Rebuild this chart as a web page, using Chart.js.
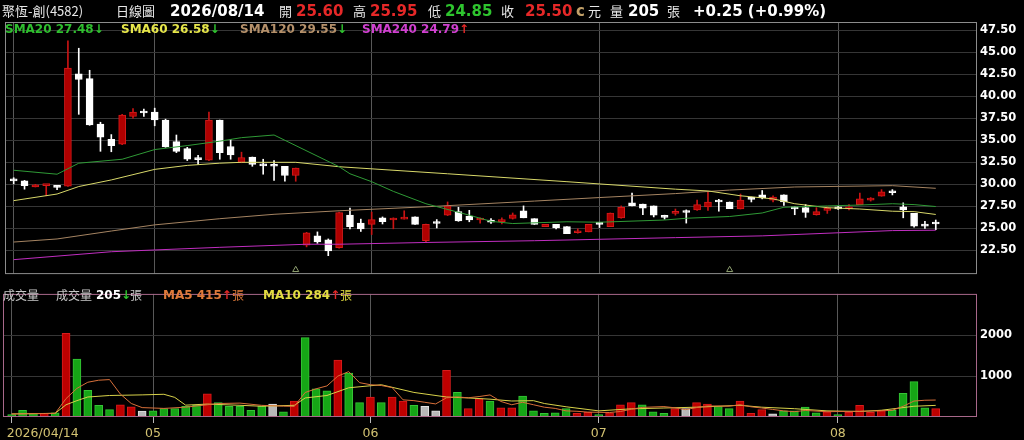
<!DOCTYPE html>
<html>
<head>
<meta charset="utf-8">
<script src="https://cdn.jsdelivr.net/npm/chart.js@4.4.1/dist/chart.umd.min.js"></script>
<style>
  body { margin: 0; background: #000; width: 1024px; height: 440px; overflow: hidden; position: relative; }
  canvas { position: absolute; left: 0; }
  #price { top: 0; }
  #vol { top: 284px; }
  .t { position: absolute; white-space: nowrap; line-height: 1; }
  .cjk { font-family: "Noto Sans CJK TC", sans-serif; font-size: 13px; color: #e6e6e6; }
  .num { font-family: "DejaVu Sans", sans-serif; font-weight: bold; font-size: 15px; color: #fff; }
  .lg { font-family: "DejaVu Sans", sans-serif; font-weight: bold; font-size: 12px; }
  .red { color: #e62828; }
  .grn { color: #2ec42e; }
</style>
</head>
<body>
<canvas id="price" width="1024" height="284" style="width:1024px;height:284px"></canvas>
<canvas id="vol" width="1024" height="156" style="width:1024px;height:156px"></canvas>

<!-- header -->
<span class="t cjk" style="left:2px;top:4px">聚恆-創(4582)</span>
<span class="t cjk" style="left:116px;top:4px">日線圖</span>
<span class="t num" style="left:170px;top:4px">2026/08/14</span>
<span class="t cjk" style="left:279px;top:4px">開</span>
<span class="t num red" style="left:296px;top:4px">25.60</span>
<span class="t cjk" style="left:353px;top:4px">高</span>
<span class="t num red" style="left:370px;top:4px">25.95</span>
<span class="t cjk" style="left:428px;top:4px">低</span>
<span class="t num grn" style="left:445px;top:4px">24.85</span>
<span class="t cjk" style="left:501px;top:4px">收</span>
<span class="t num red" style="left:525px;top:4px">25.50</span>
<span class="t num" style="left:576px;top:4px;color:#c2a068">c</span>
<span class="t cjk" style="left:588px;top:4px">元</span>
<span class="t cjk" style="left:610px;top:4px">量</span>
<span class="t num" style="left:628px;top:4px">205</span>
<span class="t cjk" style="left:667px;top:4px">張</span>
<span class="t num" style="left:693px;top:4px">+0.25 (+0.99%)</span>

<!-- price legend -->
<span class="t lg" style="left:5px;top:23px;color:#2fbf2f">SMA20 27.48<span class="grn">↓</span></span>
<span class="t lg" style="left:121px;top:23px;color:#e6e64a">SMA60 26.58<span class="grn">↓</span></span>
<span class="t lg" style="left:240px;top:23px;color:#b4906a">SMA120 29.55<span class="grn">↓</span></span>
<span class="t lg" style="left:362px;top:23px;color:#d040d0">SMA240 24.79<span class="red">↑</span></span>

<!-- volume legend -->
<span class="t cjk" style="left:3px;top:289px;font-size:12px;color:#c8c8c8">成交量</span>
<span class="t cjk" style="left:56px;top:289px;font-size:12px;color:#c8c8c8">成交量</span>
<span class="t lg" style="left:96px;top:289px;color:#fff">205<span class="grn">↓</span></span>
<span class="t cjk" style="left:130px;top:289px;font-size:12px;color:#c8c8c8">張</span>
<span class="t lg" style="left:163px;top:289px;color:#e07a3a">MA5 415<span class="red">↑</span></span>
<span class="t cjk" style="left:232px;top:289px;font-size:12px;color:#e07a3a">張</span>
<span class="t lg" style="left:263px;top:289px;color:#e2dc40">MA10 284<span class="red">↑</span></span>
<span class="t cjk" style="left:340px;top:289px;font-size:12px;color:#e2dc40">張</span>

<script>
// trading days, 2026
const aprDays = [14, 15, 16, 17, 20, 21, 22, 23, 24, 27, 28, 29, 30]
const mayDays = [4, 5, 6, 7, 8, 11, 12, 13, 14, 15, 18, 19, 20, 21, 22, 25, 26, 27, 28, 29]
const junDays = [1, 2, 3, 4, 5, 8, 9, 10, 11, 12, 15, 16, 17, 18, 22, 23, 24, 25, 26, 29, 30]
const julDays = [1, 2, 3, 6, 7, 8, 9, 10, 13, 14, 15, 16, 17, 20, 21, 22, 23, 24, 27, 28, 29, 30]
const augDays = [3, 4, 5, 6, 7, 10, 11, 12, 13, 14]

const opens = [30.45, 30.4, 29.7, 29.85, 29.9, 29.8, 42.55, 42.0, 36.85, 35.1,
  34.55, 37.7, 38.15, 38.2, 37.3, 34.85, 34.05, 32.85, 32.75, 37.3,
  34.3, 32.5, 33.1, 32.15, 32.1, 32.05, 31.0, 23.1, 24.15, 23.7,
  22.8, 26.5, 25.6, 25.45, 26.2, 25.95, 26.05, 26.3, 23.6, 25.6,
  26.5, 26.9, 26.4, 25.95, 25.95, 25.75, 26.12, 27.0, 26.1, 25.2,
  25.45, 25.2, 24.5, 24.6, 25.45, 25.2, 26.2, 27.9, 27.75, 27.55,
  26.3, 26.7, 26.8, 27.1, 27.45, 28.0, 28.0, 27.2, 28.55, 28.8,
  28.2, 28.8, 27.45, 27.35, 26.55, 27.05, 27.45, 27.2, 27.7, 28.2,
  28.65, 29.1, 27.45, 26.7, 25.35, 25.6]
const highs = [30.75, 30.45, 30.0, 29.9, 29.9, 46.3, 45.45, 42.95, 37.05, 35.65,
  37.95, 38.6, 38.55, 38.65, 37.4, 35.6, 34.2, 33.3, 38.2, 37.3,
  35.1, 33.65, 33.1, 32.85, 32.7, 32.05, 31.85, 24.55, 24.6, 23.8,
  26.85, 27.3, 26.05, 26.85, 26.3, 26.2, 27.0, 26.3, 25.5, 26.0,
  28.0, 27.4, 27.05, 26.2, 26.1, 26.2, 26.75, 27.55, 26.1, 25.45,
  25.45, 25.2, 24.95, 25.45, 25.7, 26.75, 27.55, 29.0, 27.75, 27.55,
  26.5, 27.2, 27.1, 28.2, 29.1, 28.3, 28.0, 28.9, 28.55, 29.3,
  28.7, 28.8, 27.45, 27.7, 27.35, 27.45, 27.5, 27.7, 29.0, 28.5,
  29.4, 29.4, 27.9, 26.7, 25.8, 25.95]
const lows = [30.05, 29.45, 29.7, 28.7, 29.4, 29.75, 37.95, 36.7, 33.75, 33.7,
  34.5, 37.5, 37.7, 36.65, 34.2, 33.6, 32.7, 32.25, 32.7, 32.85,
  32.85, 32.45, 32.05, 31.15, 30.45, 30.35, 30.35, 22.9, 23.3, 21.9,
  22.75, 24.95, 24.65, 24.3, 25.5, 24.95, 26.05, 25.45, 23.4, 25.05,
  26.45, 25.8, 25.75, 25.6, 25.55, 25.5, 26.05, 26.2, 25.45, 25.2,
  24.95, 24.4, 24.45, 24.6, 25.1, 25.2, 26.15, 27.55, 26.55, 26.3,
  26.05, 26.5, 25.6, 27.05, 27.05, 26.95, 27.25, 27.2, 28.0, 28.35,
  28.0, 27.6, 26.55, 26.25, 26.5, 26.7, 27.15, 27.1, 27.7, 28.1,
  28.65, 28.8, 26.2, 25.15, 25.0, 24.85]
const closes = [30.4, 29.85, 29.95, 29.9, 29.65, 43.2, 41.9, 36.75, 35.35, 34.4,
  37.85, 38.2, 38.1, 37.3, 34.25, 33.75, 32.85, 32.8, 37.3, 33.6,
  33.35, 33.05, 32.25, 32.1, 32.05, 31.0, 31.85, 24.5, 23.45, 22.45,
  26.8, 25.2, 24.95, 26.0, 25.75, 26.0, 26.1, 25.45, 25.45, 25.55,
  27.55, 25.85, 25.95, 26.0, 25.7, 26.0, 26.55, 26.2, 25.45, 25.45,
  25.05, 24.4, 24.55, 25.45, 25.45, 26.75, 27.4, 27.55, 27.3, 26.5,
  26.25, 26.8, 26.8, 27.7, 28.0, 28.0, 27.25, 28.2, 28.3, 28.45,
  28.55, 28.0, 27.2, 26.8, 26.9, 27.1, 27.2, 27.45, 28.35, 28.45,
  29.15, 29.05, 27.1, 25.25, 25.25, 25.5]

// 張
const volumes = [60, 165, 90, 90, 105, 2045, 1414, 654, 286, 180,
  300, 248, 143, 150, 203, 203, 263, 286, 564, 353,
  263, 263, 165, 263, 316, 128, 391, 1940, 692, 639,
  1391, 1075, 353, 489, 353, 489, 391, 286, 263, 150,
  1143, 601, 203, 451, 391, 226, 226, 511, 150, 90,
  105, 203, 90, 113, 60, 105, 300, 353, 300, 128,
  90, 203, 203, 353, 316, 256, 203, 391, 90, 180,
  75, 150, 150, 240, 105, 128, 60, 113, 286, 113,
  165, 165, 579, 865, 226, 205]
// change vs previous close: 1 up, -1 down, 0 flat
const volDir = [-1, -1, -1, 1, -1, 1, -1, -1, -1, -1,
  1, 1, 0, -1, -1, -1, -1, -1, 1, -1,
  -1, -1, -1, -1, 0, -1, 1, -1, -1, -1,
  1, -1, -1, 1, -1, 1, 1, -1, 0, 0,
  1, -1, 1, 1, -1, 1, 1, -1, -1, -1,
  -1, -1, 1, 1, -1, 1, 1, 1, -1, -1,
  -1, 1, 0, 1, 1, -1, -1, 1, 1, 1,
  0, -1, -1, -1, -1, 1, -1, 1, 1, 1,
  1, -1, -1, -1, -1, 1]

// moving averages: [day index, value]
const sma20 = [[0, 31.6], [4, 31.15], [6, 32.4], [10, 32.85], [13, 33.95], [16, 34.4], [19, 34.9], [21, 35.3], [24, 35.6],
  [30, 32.0], [31, 31.2], [33, 30.3], [35, 29.2], [38, 27.8], [42, 26.5], [44, 25.8], [46, 25.55], [51, 25.75], [54, 25.7],
  [60, 25.95], [62, 26.15], [66, 26.35], [69, 26.75], [71, 27.4], [75, 27.55], [78, 27.65], [81, 27.8], [83, 27.7], [85, 27.48]]
const sma60 = [[0, 28.15], [4, 28.9], [6, 29.75], [9, 30.5], [13, 31.7], [16, 32.15], [19, 32.4], [21, 32.5], [26, 32.5],
  [30, 32.0], [40, 31.2], [51, 30.3], [61, 29.45], [64, 29.25], [67, 28.7], [70, 28.35], [72, 27.8], [75, 27.35],
  [78, 27.2], [81, 26.95], [83, 26.9], [85, 26.58]]
const sma120 = [[0, 23.45], [4, 23.8], [9, 24.7], [13, 25.4], [19, 26.1], [24, 26.6], [30, 27.0], [38, 27.45], [48, 28.1],
  [54, 28.5], [61, 28.95], [66, 29.35], [72, 29.7], [81, 29.85], [85, 29.55]]
const sma240 = [[0, 21.45], [9, 22.35], [13, 22.55], [19, 22.85], [27, 23.2], [30, 23.2], [38, 23.4], [48, 23.6],
  [61, 23.95], [69, 24.15], [76, 24.5], [81, 24.75], [85, 24.79]]
const volMa5 = [[0, 75], [3, 85], [4, 90], [5, 450], [6, 700], [7, 850], [8, 900], [9, 915], [10, 560], [11, 330], [12, 230],
  [14, 210], [16, 240], [18, 300], [19, 330], [21, 340], [23, 285], [25, 265], [26, 260], [27, 600], [28, 690], [29, 760],
  [30, 1000], [31, 1110], [32, 840], [33, 790], [34, 770], [35, 720], [36, 420], [37, 400], [38, 360], [39, 320],
  [40, 470], [41, 490], [42, 470], [43, 500], [44, 540], [45, 380], [46, 300], [47, 360], [48, 300], [49, 240],
  [50, 210], [51, 150], [52, 140], [53, 120], [55, 110], [56, 135], [57, 190], [58, 235], [60, 255], [61, 225],
  [62, 180], [63, 230], [64, 270], [66, 265], [67, 300], [68, 250], [69, 220], [70, 185], [71, 150], [72, 130],
  [73, 160], [75, 130], [78, 140], [80, 150], [81, 165], [82, 260], [83, 390], [84, 410], [85, 415]]
const volMa10 = [[0, 75], [4, 90], [5, 300], [6, 400], [7, 489], [9, 526], [12, 541], [14, 556], [15, 480], [16, 290],
  [18, 316], [21, 286], [23, 263], [26, 286], [27, 466], [29, 526], [31, 714], [34, 789], [37, 601], [40, 489],
  [42, 466], [44, 436], [46, 391], [48, 400], [49, 330], [51, 250], [54, 150], [57, 200], [60, 220], [63, 240],
  [67, 286], [69, 240], [72, 203], [75, 150], [78, 135], [80, 165], [82, 230], [83, 263], [85, 284]]

const signalDays = [26, 66]
const priceTicks = [22.5, 25, 27.5, 30, 32.5, 35, 37.5, 40, 42.5, 45, 47.5]
const volTicks = [1000, 2000]

// labels + month start positions
const months = [['04', aprDays], ['05', mayDays], ['06', junDays], ['07', julDays], ['08', augDays]]
const dates = []
const monthStarts = []
const monthLabels = []
months.forEach(([m, days]) => {
  monthStarts.push(dates.length)
  monthLabels.push(dates.length === 0 ? '2026/' + m + '/' + String(days[0]).padStart(2, '0') : m)
  days.forEach(d => dates.push('2026/' + m + '/' + String(d).padStart(2, '0')))
})

const X_MIN = -0.8
const X_MAX = 88.8

const toPts = arr => arr.map(([x, y]) => ({ x, y }))
const candleUp = opens.map((o, i) => closes[i] > o)

const framePlugin = {
  id: 'frame',
  afterDraw(chart, args, opts) {
    const { ctx, chartArea: a } = chart
    ctx.save()
    ctx.strokeStyle = opts.color
    ctx.lineWidth = 1
    ctx.strokeRect(a.left + 0.5, a.top + 0.5, a.right - a.left - 1, a.bottom - a.top - 1)
    ctx.restore()
  }
}

const monthLabelPlugin = {
  id: 'monthLabels',
  afterDraw(chart) {
    const ctx = chart.ctx
    const xs = chart.scales.x
    ctx.save()
    ctx.font = '12.5px "DejaVu Sans"'
    ctx.fillStyle = '#d2c272'
    ctx.textBaseline = 'middle'
    monthStarts.forEach((idx, k) => {
      const x = xs.getPixelForValue(idx)
      ctx.textAlign = k === 0 ? 'left' : 'center'
      ctx.fillText(monthLabels[k], k === 0 ? x - 5 : x, chart.chartArea.bottom + 17)
    })
    ctx.restore()
  }
}

function xScale(extra) {
  return Object.assign({
    type: 'linear',
    min: X_MIN,
    max: X_MAX,
    offset: false,
    afterBuildTicks: s => { s.ticks = monthStarts.map(v => ({ value: v })) },
    ticks: { display: false },
    border: { display: false }
  }, extra)
}

function yAxisFont() {
  return { family: 'DejaVu Sans', size: 11.5, weight: 'bold' }
}

function lineSet(pts, color) {
  return {
    type: 'line',
    data: toPts(pts),
    borderColor: color,
    borderWidth: 1,
    pointRadius: 0,
    tension: 0,
    fill: false
  }
}

Chart.defaults.animation = false
Chart.defaults.plugins.legend.display = false
Chart.defaults.plugins.tooltip.enabled = false

new Chart(document.getElementById('price'), {
  type: 'bar',
  data: {
    datasets: [
      lineSet(sma20, '#2f9a36'),
      lineSet(sma60, '#d8d86a'),
      lineSet(sma120, '#a58462'),
      lineSet(sma240, '#c02ec0'),
      {
        type: 'line',
        data: signalDays.map(x => ({ x, y: 20.3 })),
        showLine: false,
        pointStyle: 'triangle',
        pointRadius: 3.5,
        pointBorderWidth: 1,
        pointBorderColor: '#8fa070',
        pointBackgroundColor: 'rgba(0,0,0,0)'
      },
      {
        // bodies
        data: opens.map((o, i) => ({ x: i, y: [o, closes[i]] })),
        backgroundColor: candleUp.map(u => (u ? '#b00000' : '#ffffff')),
        borderColor: candleUp.map(u => (u ? '#d41a1a' : '#ffffff')),
        borderWidth: 1,
        borderSkipped: false,
        barThickness: 7,
        minBarLength: 2,
        grouped: false
      },
      {
        // wicks
        data: lows.map((l, i) => ({ x: i, y: [l, highs[i]] })),
        backgroundColor: candleUp.map(u => (u ? '#c81414' : '#ffffff')),
        borderWidth: 0,
        barThickness: 1,
        grouped: false
      }
    ]
  },
  options: {
    responsive: false,
    events: [],
    layout: { padding: { left: 3, top: 22, right: 0, bottom: 1 } },
    scales: {
      x: xScale({ grid: { color: '#585858', drawTicks: false, offset: false } }),
      y: {
        position: 'right',
        min: 19.81,
        max: 48.43,
        afterBuildTicks: s => { s.ticks = priceTicks.map(v => ({ value: v })) },
        afterFit: s => { s.width = 47 },
        ticks: { color: '#ffffff', font: yAxisFont(), padding: 3, callback: v => v.toFixed(2) },
        grid: { color: '#363636', drawTicks: false },
        border: { display: false }
      }
    },
    plugins: { frame: { color: '#8c8c8c' } }
  },
  plugins: [framePlugin]
})

new Chart(document.getElementById('vol'), {
  type: 'bar',
  data: {
    datasets: [
      lineSet(volMa5, '#d8703a'),
      lineSet(volMa10, '#d8d24a'),
      {
        data: volumes.map((v, i) => ({ x: i, y: v })),
        backgroundColor: volDir.map(d => (d > 0 ? '#be0000' : d < 0 ? '#16a516' : '#b8b8b8')),
        borderColor: volDir.map(d => (d > 0 ? '#d81c1c' : d < 0 ? '#36c436' : '#e2e2e2')),
        borderWidth: 1,
        borderSkipped: false,
        barThickness: 8,
        grouped: false
      }
    ]
  },
  options: {
    responsive: false,
    events: [],
    layout: { padding: { left: 3, top: 2, right: 0, bottom: 0 } },
    scales: {
      x: xScale({
        afterFit: s => { s.height = 23 },
        grid: { color: '#585858', tickColor: '#b8b8b8', tickLength: 6, offset: false }
      }),
      y: {
        position: 'right',
        min: 0,
        max: 3011,
        afterBuildTicks: s => { s.ticks = volTicks.map(v => ({ value: v })) },
        afterFit: s => { s.width = 47 },
        ticks: { color: '#ffffff', font: yAxisFont(), padding: 3, callback: v => String(v) },
        grid: { color: '#363636', drawTicks: false },
        border: { display: false }
      }
    },
    plugins: { frame: { color: '#a8688a' } }
  },
  plugins: [framePlugin, monthLabelPlugin]
})
</script>
</body>
</html>
